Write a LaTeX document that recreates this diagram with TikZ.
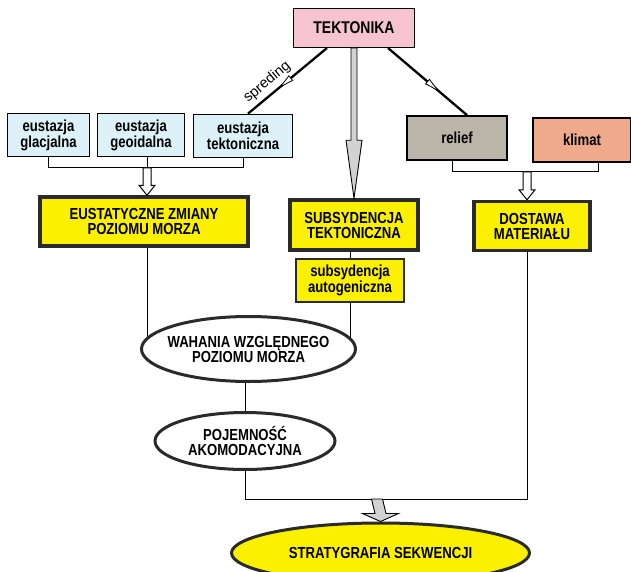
\documentclass[tikz,border=0pt]{standalone}
\usepackage{fontspec}
\setmainfont{Liberation Sans}[FakeStretch=0.82]
\newfontfamily\sprfont{Liberation Sans}
\usetikzlibrary{shapes.geometric,calc,arrows.meta,decorations.markings,backgrounds}
\definecolor{tekpink}{HTML}{F6C4D0}
\definecolor{eublue}{HTML}{DCF2F8}
\definecolor{relgray}{HTML}{BBB4A9}
\definecolor{klsalmon}{HTML}{EFA98B}
\definecolor{boxyellow}{HTML}{FAF000}
\definecolor{frame}{HTML}{2A2A2A}
\newcommand\vblockarrow[6]{%
  \draw[#1] ($(#2)+(-#4,0)$) -- ($(#3)+(-#4,-#6)$) -- ($(#3)+(-#5,-#6)$) -- (#3)
    -- ($(#3)+(#5,-#6)$) -- ($(#3)+(#4,-#6)$) -- ($(#2)+(#4,0)$) -- cycle;}
\tikzset{
  lowtxt/.style={font=\bfseries\fontsize{16}{14.5}\selectfont, align=center, inner sep=0pt},
  captxt/.style={font=\bfseries\fontsize{16}{15}\selectfont, align=center, inner sep=0pt},
  smallbox/.style={lowtxt, draw=black, line width=1.7pt, fill=eublue},
  bigbox/.style={captxt, draw=frame, line width=3.4pt, fill=boxyellow},
  oval/.style={captxt, ellipse, draw=frame, line width=3pt, fill=white, inner xsep=-10pt, inner ysep=0pt},
  conn/.style={draw=black, line width=1pt},
  diag/.style={line width=2.3pt, postaction={decorate},
    decoration={markings, mark=at position #1 with {\arrow[line width=0.8pt]{Latex[open,length=19pt,width=7pt,fill=white]}}}},
  hollow/.style={draw=black, line width=1pt, fill=white},
  grayarrow/.style={draw=black, line width=0.9pt, fill=gray!35},
}
\begin{document}
\begin{tikzpicture}[x=1pt,y=-1pt]
\useasboundingbox (0,0) rectangle (631,572);
% nodes
\node[captxt, draw=black, line width=1pt, fill=tekpink, minimum width=121pt, minimum height=39pt, font=\bfseries\fontsize{17}{15}\selectfont] (tek) at (354,28) {TEKTONIKA};
\node[smallbox, minimum width=82pt, minimum height=43pt] (eg) at (48.5,135) {eustazja\\glacjalna};
\node[smallbox, minimum width=87pt, minimum height=43pt] (eo) at (141,135) {eustazja\\geoidalna};
\node[smallbox, minimum width=99pt, minimum height=43pt] (et) at (243,136) {eustazja\\tektoniczna};
\node[smallbox, fill=relgray, minimum width=100pt, minimum height=44pt] (rel) at (457,138) {relief};
\node[smallbox, fill=klsalmon, minimum width=98pt, minimum height=44pt] (kl) at (582,140) {klimat};
\node[bigbox, minimum width=208pt, minimum height=49pt] (eus) at (144,221.5) {EUSTATYCZNE ZMIANY\\POZIOMU MORZA};
\node[bigbox, minimum width=128pt, minimum height=50pt] (sub) at (354,225) {SUBSYDENCJA\\TEKTONICZNA};
\node[bigbox, minimum width=116pt, minimum height=49pt] (dos) at (532,226) {DOSTAWA\\MATERIAŁU};
\node[lowtxt, draw=frame, line width=2pt, fill=boxyellow, minimum width=108pt, minimum height=43pt] (aut) at (350,280.5) {subsydencja\\autogeniczna};
\node[oval, minimum width=214pt, minimum height=65pt] (wah) at (248.5,349) {WAHANIA WZGLĘDNEGO\\POZIOMU MORZA};
\node[oval, minimum width=180pt, minimum height=57pt] (poj) at (245,441) {POJEMNOŚĆ\\AKOMODACYJNA};
\node[oval, fill=boxyellow, minimum width=298pt, minimum height=60pt] (str) at (380.5,553) {STRATYGRAFIA SEKWENCJI};
% junction coordinates
\coordinate (eb) at (147,168);
\coordinate (rb) at (527,172);
\coordinate (j) at (377,499);
% connectors (behind nodes)
\begin{pgfonlayer}{background}
\draw[conn] (eg.south) -- (eg.south |- eb) -- (et.south |- eb) -- (et.south);
\draw[conn] (eo.south -| eb) -- (eb);
\draw[conn] ([xshift=-5pt]rel.south) -- ([xshift=-5pt]rel.south |- rb) -- ([xshift=16pt]kl.south |- rb) -- ([xshift=16pt]kl.south);
\draw[conn] (eus.south -| eb) -- (eb |- wah.center);
\draw[conn] (sub.south -| aut.center) -- (aut.north);
\draw[conn] (aut.south) -- (aut.south |- wah.center);
\draw[conn] (poj.north |- wah.south) -- (poj.north);
\draw[conn] (dos.south -| rb) -- (rb |- j) -- (poj.south |- j) -- (poj.south);
\end{pgfonlayer}
% diagonal arrows from TEKTONIKA
\coordinate (tl) at ([xshift=-27pt]tek.south);
\coordinate (tr) at ([xshift=34pt]tek.south);
\draw[diag=0.64] (tl) -- ([xshift=5pt]et.north);
\path ([xshift=5pt]et.north) -- node[pos=0.34, sloped, above=5pt, font=\sprfont\fontsize{14.5}{15}\selectfont, inner sep=0pt] {spreding} (tl);
\draw[diag=0.68] (tr) -- ([xshift=10pt]rel.north);
% block arrows
\vblockarrow{grayarrow}{tek.south}{sub.north}{3}{8}{58}
\vblockarrow{hollow}{eb}{eb |- eus.north}{4}{8}{10}
\vblockarrow{hollow}{rb}{rb |- dos.north}{4}{8}{10}
\vblockarrow{grayarrow}{j}{str.north}{5.5}{18}{8}
\end{tikzpicture}
\end{document}
